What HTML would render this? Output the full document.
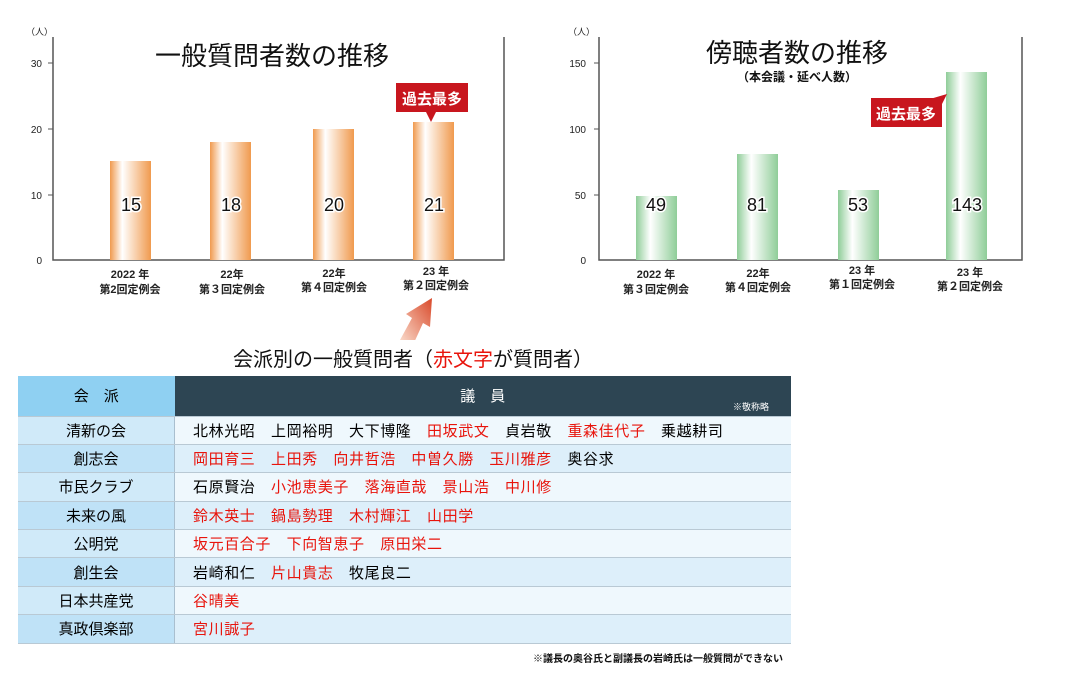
<!DOCTYPE html>
<html><head><meta charset="utf-8"><style>
body{margin:0;width:1085px;height:676px;background:#fff;overflow:hidden;font-family:"Liberation Sans","Noto Sans CJK JP",sans-serif;position:relative}
.a{position:absolute}
table{position:absolute;left:18px;top:376px;width:773px;border-collapse:collapse;font-size:15px}
td{height:27.4px;border-bottom:1.5px solid #b9c9d4;padding:0}
td.f{width:156px;text-align:center;border-right:1.5px solid #a9bfcf}
td.m{padding-left:18px;letter-spacing:0.6px}
tr.o td.f{background:#d0eaf9}tr.o td.m{background:#eff8fd}
tr.e td.f{background:#bfe2f7}tr.e td.m{background:#ddeffa}
.r{color:#e8140c}
</style></head><body>
<svg class="a" style="left:0;top:0" width="1085" height="340">
<defs>
<linearGradient id="og" x1="0" x2="1"><stop offset="0" stop-color="#f09a4e"/><stop offset=".3" stop-color="#fff"/><stop offset="1" stop-color="#f09a4e"/></linearGradient>
<linearGradient id="gg" x1="0" x2="1"><stop offset="0" stop-color="#8fcd98"/><stop offset=".35" stop-color="#fff"/><stop offset="1" stop-color="#8fcd98"/></linearGradient>
<linearGradient id="ar" x1="0" y1="1" x2="1" y2="0"><stop offset="0" stop-color="#fbe0d0"/><stop offset="1" stop-color="#d9492a"/></linearGradient>
</defs>
<g font-size="10" fill="#222">
<path d="M53 37V260H504V37" fill="none" stroke="#555" stroke-width="1.5"/>
<path d="M48 63h5M48 129h5M48 195h5" stroke="#555"/>
<text x="26" y="35" font-size="9">（人）</text>
<text x="42" y="67" text-anchor="end">30</text><text x="42" y="133" text-anchor="end">20</text><text x="42" y="199" text-anchor="end">10</text><text x="42" y="264" text-anchor="end">0</text>
<rect x="110" y="161" width="41" height="99" fill="url(#og)"/>
<rect x="210" y="142" width="41" height="118" fill="url(#og)"/>
<rect x="313" y="129" width="41" height="131" fill="url(#og)"/>
<rect x="413" y="122" width="41" height="138" fill="url(#og)"/>
<g font-size="18" text-anchor="middle" fill="#111" stroke="#fff" stroke-width="3" paint-order="stroke"><text x="131" y="211">15</text><text x="231" y="211">18</text><text x="334" y="211">20</text><text x="434" y="211">21</text></g>
<text x="272" y="65" font-size="26" text-anchor="middle" fill="#111">一般質問者数の推移</text>
<rect x="396" y="83" width="72" height="29" fill="#c8161e"/><path d="M426 112h10l-5 10z" fill="#c8161e"/>
<text x="432" y="104" font-size="15" fill="#fff" text-anchor="middle" font-weight="bold">過去最多</text>
<g text-anchor="middle" font-size="11" font-weight="bold"><text x="130" y="278">2022 年</text><text x="130" y="293">第2回定例会</text><text x="232" y="278">22年</text><text x="232" y="293">第３回定例会</text><text x="334" y="277">22年</text><text x="334" y="291">第４回定例会</text><text x="436" y="275">23 年</text><text x="436" y="289">第２回定例会</text></g>

<path d="M599 37V260H1022V37" fill="none" stroke="#555" stroke-width="1.5"/>
<path d="M594 63h5M594 129h5M594 195h5" stroke="#555"/>
<text x="568" y="35" font-size="9">（人）</text>
<text x="586" y="67" text-anchor="end">150</text><text x="586" y="133" text-anchor="end">100</text><text x="586" y="199" text-anchor="end">50</text><text x="586" y="264" text-anchor="end">0</text>
<rect x="636" y="196" width="41" height="64" fill="url(#gg)"/>
<rect x="737" y="154" width="41" height="106" fill="url(#gg)"/>
<rect x="838" y="190" width="41" height="70" fill="url(#gg)"/>
<rect x="946" y="72" width="41" height="188" fill="url(#gg)"/>
<g font-size="18" text-anchor="middle" fill="#111" stroke="#fff" stroke-width="3" paint-order="stroke"><text x="656" y="211">49</text><text x="757" y="211">81</text><text x="858" y="211">53</text><text x="967" y="211">143</text></g>
<text x="797" y="62" font-size="26" text-anchor="middle" fill="#111">傍聴者数の推移</text>
<text x="797" y="81" font-size="12" text-anchor="middle" fill="#111" font-weight="bold">（本会議・延べ人数）</text>
<rect x="871" y="98" width="71" height="29" fill="#c8161e"/><path d="M930 99l17-5-5 10z" fill="#c8161e"/>
<text x="906" y="119" font-size="15" fill="#fff" text-anchor="middle" font-weight="bold">過去最多</text>
<g text-anchor="middle" font-size="11" font-weight="bold"><text x="656" y="278">2022 年</text><text x="656" y="293">第３回定例会</text><text x="758" y="277">22年</text><text x="758" y="291">第４回定例会</text><text x="862" y="274">23 年</text><text x="862" y="288">第１回定例会</text><text x="970" y="276">23 年</text><text x="970" y="290">第２回定例会</text></g>
</g>
<path d="M400 340L412 318L406 314L432 298L430 327L423 323L413 345Z" fill="url(#ar)"/>
</svg>
<div class="a" style="left:0;width:826px;top:343px;text-align:center;font-size:20px;color:#111">会派別の一般質問者（<span class="r">赤文字</span>が質問者）</div>
<table>
<tr style="height:40px"><td class="f" style="background:#8fd0f2;height:39px;border-right:none">会　派</td><td style="background:#2d4553;color:#fff;text-align:center;position:relative">議　員<span style="position:absolute;right:22px;top:24px;font-size:9px">※敬称略</span></td></tr>
<tr class="o"><td class="f">清新の会</td><td class="m">北林光昭　上岡裕明　大下博隆　<span class="r">田坂武文</span>　貞岩敬　<span class="r">重森佳代子</span>　乗越耕司</td></tr>
<tr class="e"><td class="f">創志会</td><td class="m"><span class="r">岡田育三　上田秀　向井哲浩　中曽久勝　玉川雅彦</span>　奥谷求</td></tr>
<tr class="o"><td class="f">市民クラブ</td><td class="m">石原賢治　<span class="r">小池恵美子　落海直哉　景山浩　中川修</span></td></tr>
<tr class="e"><td class="f">未来の風</td><td class="m"><span class="r">鈴木英士　鍋島勢理　木村輝江　山田学</span></td></tr>
<tr class="o"><td class="f">公明党</td><td class="m"><span class="r">坂元百合子　下向智恵子　原田栄二</span></td></tr>
<tr class="e"><td class="f">創生会</td><td class="m">岩崎和仁　<span class="r">片山貴志</span>　牧尾良二</td></tr>
<tr class="o"><td class="f">日本共産党</td><td class="m"><span class="r">谷晴美</span></td></tr>
<tr class="e"><td class="f">真政倶楽部</td><td class="m"><span class="r">宮川誠子</span></td></tr>
</table>
<div class="a" style="right:302px;top:650px;font-size:10px;font-weight:bold;color:#111">※議長の奥谷氏と副議長の岩崎氏は一般質問ができない</div>
</body></html>
